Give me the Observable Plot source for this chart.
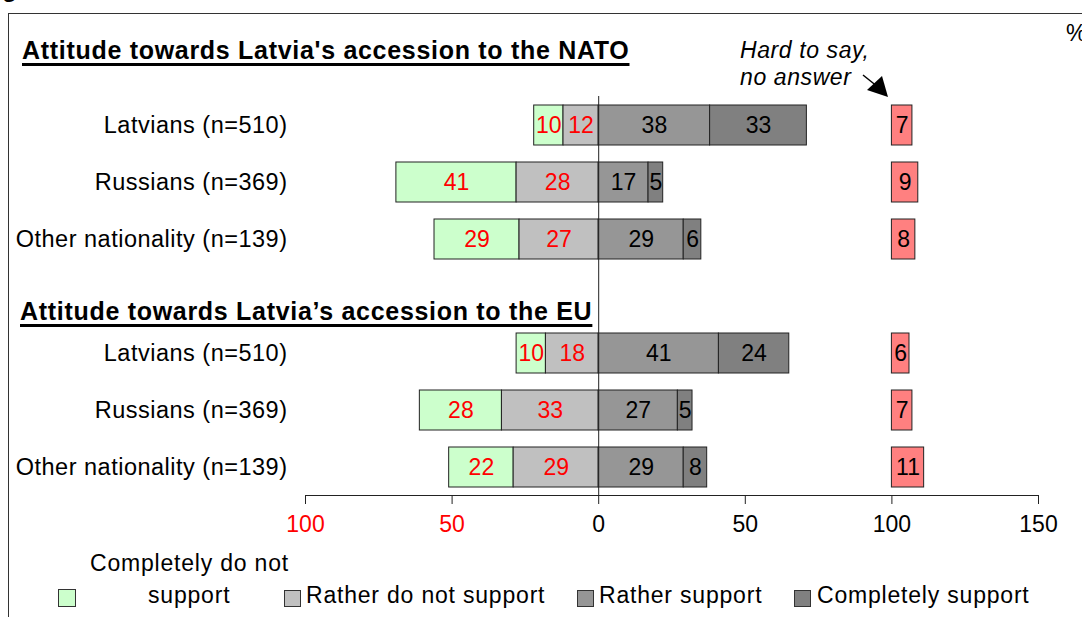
<!DOCTYPE html>
<html>
<head>
<meta charset="utf-8">
<script src="https://cdn.jsdelivr.net/npm/d3@7"></script>
<script src="https://cdn.jsdelivr.net/npm/@observablehq/plot@0.6"></script>
<style>
  body { margin: 0; background: #fff; }
  #wrap { position: relative; width: 1082px; height: 617px; overflow: hidden;
          font-family: "Liberation Sans", Arial, sans-serif; color: #000; }
  #wrap svg.plot { position: absolute; left: 0; top: 0; }
  #wrap svg.plot g.rowlabels text { letter-spacing: 0.5px; }
  .box { position: absolute; left: 8px; top: 13px; width: 1200px; height: 800px;
         border: 1.5px solid #333; box-sizing: border-box; }
  .abs { position: absolute; white-space: nowrap; line-height: 1; }
  .title { font-weight: bold; font-size: 25px; letter-spacing: 0.7px;
           text-decoration: underline; text-decoration-thickness: 3px; text-underline-offset: 4px; }
  .note { font-style: italic; font-size: 23px; letter-spacing: 0.6px; }
  .leg { font-size: 23px; letter-spacing: 0.8px; }
  .sw { position: absolute; width: 15px; height: 15px; border: 1px solid #333; }
</style>
</head>
<body>
<div id="wrap">
  <div class="abs" style="left:-19px; top:-23px; font-weight:bold; font-size:24px;">Figure</div>
  <div class="box"></div>
</div>
<script>
// Survey groups (rows within each block)
const groups = ["Latvians (n=510)", "Russians (n=369)", "Other nationality (n=139)"];

// Attitude towards accession to NATO, %
const natoCompletelyNot = [10, 41, 29];
const natoRatherNot     = [12, 28, 27];
const natoRather        = [38, 17, 29];
const natoCompletely    = [33, 5, 6];
const natoHardToSay     = [7, 9, 8];

// Attitude towards accession to the EU, %
const euCompletelyNot = [10, 28, 22];
const euRatherNot     = [18, 33, 29];
const euRather        = [41, 27, 29];
const euCompletely    = [24, 5, 8];
const euHardToSay     = [6, 7, 11];

const seriesNames  = ["Completely do not support", "Rather do not support", "Rather support", "Completely support"];
const seriesColors = ["#ccffcc", "#c0c0c0", "#969696", "#808080"];
const hardColor = "#ff8080";
const hardOffset = 100; // "hard to say" bars start at 100 on the axis
const xTicks = [-100, -50, 0, 50, 100, 150];

// Row keys: three NATO rows, an empty slot, three EU rows
const blocks = [
  {id: "NATO", cn: natoCompletelyNot, rn: natoRatherNot, r: natoRather, c: natoCompletely, h: natoHardToSay},
  {id: "EU",   cn: euCompletelyNot,   rn: euRatherNot,   r: euRather,   c: euCompletely,   h: euHardToSay}
];
const rowKeys = ["NATO|0", "NATO|1", "NATO|2", "gap", "EU|0", "EU|1", "EU|2"];

const segments = [];
const hardBars = [];
const rowLabels = [];
for (const b of blocks) {
  groups.forEach((g, i) => {
    const key = `${b.id}|${i}`;
    rowLabels.push({key, label: g});
    const cn = b.cn[i], rn = b.rn[i], r = b.r[i], c = b.c[i];
    segments.push({key, s: 0, value: cn, x1: -(cn + rn), x2: -rn});
    segments.push({key, s: 1, value: rn, x1: -rn, x2: 0});
    segments.push({key, s: 2, value: r, x1: 0, x2: r});
    segments.push({key, s: 3, value: c, x1: r, x2: r + c});
    hardBars.push({key, value: b.h[i], x1: hardOffset, x2: hardOffset + b.h[i]});
  });
}

const font = '"Liberation Sans", Arial, sans-serif';

const chart = Plot.plot({
  width: 1082,
  height: 545,
  marginLeft: 305,
  marginRight: 44,
  marginTop: 96,
  marginBottom: 50,
  x: {domain: [-100, 150], axis: null},
  y: {type: "band", domain: rowKeys, paddingInner: 0.3, paddingOuter: 0.15, axis: null},
  color: {type: "identity"},
  style: {fontFamily: font, fontSize: "23px", background: "transparent", overflow: "visible"},
  marks: [
    // stacked support / non-support bars
    Plot.barX(segments, {x1: "x1", x2: "x2", y: "key", fill: d => seriesColors[d.s], stroke: "#222", strokeWidth: 1}),
    Plot.text(segments, {x: d => (d.x1 + d.x2) / 2, y: "key", text: d => String(d.value),
      fill: d => d.s < 2 ? "#ff0000" : "#000000", fontSize: 23}),
    // "hard to say, no answer" bars
    Plot.barX(hardBars, {x1: "x1", x2: "x2", y: "key", fill: hardColor, stroke: "#222", strokeWidth: 1}),
    Plot.text(hardBars, {x: d => (d.x1 + d.x2) / 2, y: "key", text: d => String(d.value), fill: "#000000", fontSize: 23}),
    // zero line
    Plot.ruleX([0], {stroke: "#222", strokeWidth: 1}),
    // row labels
    Plot.text(rowLabels, {y: "key", text: "label", frameAnchor: "left", dx: -18, textAnchor: "end",
      fill: "#000000", fontSize: 23.5, className: "rowlabels"}),
    // x axis: baseline, ticks and labels (left side shown as magnitudes in red)
    Plot.frame({anchor: "bottom", stroke: "#222", strokeWidth: 1}),
    Plot.axisX({ticks: xTicks, tickSize: 9, tickFormat: () => "", stroke: "#222"}),
    Plot.text(xTicks, {x: d => d, frameAnchor: "bottom", dy: 36, text: d => String(Math.abs(d)),
      fill: d => d < 0 ? "#ff0000" : "#000000", fontSize: 23})
  ]
});
chart.classList.add("plot");

const wrap = document.getElementById("wrap");
wrap.appendChild(chart);

function addDiv(cls, html, css) {
  const el = document.createElement("div");
  el.className = cls;
  el.innerHTML = html;
  el.style.cssText = css;
  wrap.appendChild(el);
  return el;
}

// block titles
addDiv("abs title", "Attitude towards Latvia's accession to the NATO", "left:22px; top:38px;");
addDiv("abs title", "Attitude towards Latvia’s accession to the EU", "left:20px; top:299px;");

// unit and annotation
addDiv("abs leg", "%", "left:1066px; top:22px;");
addDiv("abs note", "Hard to say,", "left:740px; top:39px;");
addDiv("abs note", "no answer", "left:740px; top:66px;");
const ns = "http://www.w3.org/2000/svg";
const arrow = document.createElementNS(ns, "svg");
arrow.setAttribute("width", "1082");
arrow.setAttribute("height", "617");
arrow.style.cssText = "position:absolute;left:0;top:0;pointer-events:none;";
arrow.innerHTML = '<line x1="863" y1="75" x2="878" y2="87" stroke="#000" stroke-width="1.5"/>' +
                  '<polygon points="867,90 882,76 888,97" fill="#000"/>';
wrap.appendChild(arrow);

// legend
const legendItems = [
  {sw: [58, 589], text: null},
  {sw: [284, 590], text: [306, 584]},
  {sw: [577, 590], text: [599, 584]},
  {sw: [794, 590], text: [817, 584]}
];
legendItems.forEach((it, i) => {
  const sw = addDiv("sw", "", `left:${it.sw[0]}px; top:${it.sw[1]}px; background:${seriesColors[i]};`);
  if (i === 0) { sw.style.width = "16px"; sw.style.height = "16px"; }
  if (it.text) addDiv("abs leg", seriesNames[i], `left:${it.text[0]}px; top:${it.text[1]}px;`);
});
addDiv("abs leg", "Completely do not", "left:90px; top:552px;");
addDiv("abs leg", "support", "left:148px; top:584px;");
</script>
</body>
</html>
